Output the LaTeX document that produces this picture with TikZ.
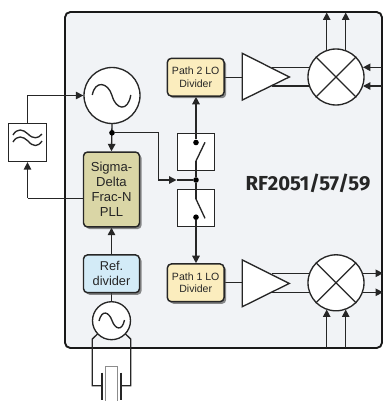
\documentclass[tikz,border=0pt]{standalone}
\usepackage{fontspec}
\setmainfont{Liberation Sans}
\newfontfamily\titlefont{Fira Sans}
\usetikzlibrary{arrows.meta,shadows,backgrounds}
\pgfdeclarelayer{boxlayer}
\pgfdeclarelayer{wirelayer}
\pgfsetlayers{boxlayer,wirelayer,main}
\definecolor{panelc}{HTML}{F1F3F6}
\definecolor{pllc}{HTML}{DAD6A6}
\definecolor{refc}{HTML}{D3EBF7}
\definecolor{loc}{HTML}{FBEDBE}
\definecolor{inkc}{HTML}{262626}
\tikzset{
  x=0.75pt,y=-0.75pt,
  wire/.style={draw=inkc,line width=1pt},
  arrowwire/.style={wire,-{Triangle[length=5.6pt,width=5.6pt]}},
  block/.style={draw=inkc,line width=1.1pt,rounded corners=3pt,inner sep=0pt,align=center,
    text=inkc,drop shadow={shadow xshift=1.6pt,shadow yshift=-1.6pt,fill=black!70,opacity=.65}},
  plainbox/.style={draw=inkc,line width=0.95pt,fill=white,inner sep=0pt,minimum size=28pt},
  roundel/.style={circle,draw=inkc,line width=1pt,fill=white,inner sep=0pt},
  amp/.style={draw=inkc,line width=1pt,fill=white,line join=miter},
  dot/.style={circle,fill=black,inner sep=0pt,minimum size=4.2pt},
  curve/.style={draw=inkc,line width=1pt}
}
\begin{document}
\begin{tikzpicture}
\useasboundingbox (0,0) rectangle (383,401);
\clip (0,0) rectangle (383,401);
% blocks
\node[block,fill=pllc,minimum width=42pt,minimum height=56.2pt,font=\fontsize{9.8pt}{11.3pt}\selectfont] (pll) at (111.5,189.5) {Sigma-\\Delta\\Frac-N\\PLL};
\node[block,fill=refc,minimum width=42pt,minimum height=28.3pt,font=\fontsize{9.6pt}{11.3pt}\selectfont] (ref) at (111.5,273.8) {Ref.\\divider};
\node[block,fill=loc,minimum width=42.5pt,minimum height=28.3pt,font=\fontsize{7.9pt}{9.6pt}\selectfont] (lotwo) at (195.7,77.2) {Path 2 LO\\Divider};
\node[block,fill=loc,minimum width=42.5pt,minimum height=28.3pt,font=\fontsize{7.9pt}{9.6pt}\selectfont] (loone) at (195.7,282.8) {Path 1 LO\\Divider};
\node[plainbox] (swtwo) at (196,152) {};
\node[plainbox] (swone) at (196,207.8) {};
\node[plainbox,minimum size=28.5pt] (filt) at (27.5,142.5) {};
\node[roundel,minimum size=42pt] (vco) at (112,95.5) {};
\node[roundel,minimum size=28.5pt] (xo) at (111.5,320.7) {};
\node[roundel,minimum size=42pt] (mixtwo) at (336,77) {};
\node[roundel,minimum size=42pt] (mixone) at (336,282.8) {};
\draw[amp] (242.3,53.3) coordinate (amptwo) -- (289.3,77) -- (242.3,100) -- cycle;
\draw[amp] (242.3,260) coordinate (ampone) -- (289.3,283.4) -- (242.3,306.7) -- cycle;
\node[font=\titlefont\fontsize{15.2pt}{17pt}\selectfont\bfseries,text=inkc,inner sep=0pt] (title) at (308,183.5) {RF2051/57/59};
% junctions
\node[dot] (jpll) at (112,132.8) {};
\node[dot] (jmid) at (196,180) {};
\node[dot] (jtwo) at (196,142.5) {};
\node[dot] (jone) at (196,217.2) {};
% symbols
\draw[curve] (92.3,95) .. controls (95,80) and (108,82) .. (112,95.5) .. controls (116,110) and (128,112) .. (130.8,95);
\draw[curve] (99,321) .. controls (102,309) and (109,312) .. (112,320.5) .. controls (115,329) and (122,332) .. (124.5,320);
\draw[curve] (13,135) .. controls (17,128) and (23,129) .. (28,134) .. controls (33,139) and (38,139) .. (42,134);
\draw[curve] (13,142) .. controls (17,135) and (23,136) .. (28,141) .. controls (33,147) and (38,147) .. (42,141);
\draw[curve] (mixtwo.45) -- (mixtwo.225) (mixtwo.135) -- (mixtwo.315);
\draw[curve] (mixone.45) -- (mixone.225) (mixone.135) -- (mixone.315);
\coordinate (bladetwoa) at (196,161);
\coordinate (bladetwob) at (205,142.3);
\coordinate (bladeonea) at (196,199);
\coordinate (bladeoneb) at (205,218.3);
\draw[curve] (bladetwoa) -- (bladetwob);
\draw[curve] (bladeonea) -- (bladeoneb);
\draw[wire] (jtwo) -- (jtwo |- swtwo.north);
\draw[wire] (jone) -- (jone |- swone.south);
\draw[wire] (jmid) -- (bladetwoa);
\draw[wire] (jmid) -- (bladeonea);
% panel
\begin{pgfonlayer}{boxlayer}
\draw[fill=panelc,draw=black!90,line width=1.4pt,rounded corners=4pt] (65,12) rectangle (382,348);
\end{pgfonlayer}
% connectors
\coordinate (twotapa) at (272,67.3);
\coordinate (twotapb) at (272,86);
\coordinate (onetapa) at (272,273.3);
\coordinate (onetapb) at (272,292.3);
\coordinate (mixtwoina) at (363,67.3);
\coordinate (mixtwoinb) at (363,86);
\coordinate (edgea) at (382,67.3);
\coordinate (edgeb) at (382,86);
\coordinate (outa) at (383,273.3);
\coordinate (outb) at (383,292.3);
\coordinate (upa) at (326.7,12.5);
\coordinate (upb) at (345.7,12.5);
\coordinate (loa) at (326.7,348);
\coordinate (lob) at (345.7,348);
\coordinate (loaend) at (326.7,309.5);
\coordinate (lobend) at (345.7,309.5);
\coordinate (xtall) at (92.3,339);
\coordinate (xtalr) at (130.7,339);
\coordinate (xtalbl) at (92.3,385.7);
\coordinate (xtalbr) at (130.7,385.7);
\coordinate (platel) at (101.7,385.7);
\coordinate (plater) at (121,385.7);
\coordinate (bendtop) at (158.3,132.8);
\coordinate (bendlow) at (158.3,180);
\coordinate (bendtip) at (176.5,180);
\coordinate (pllout) at (27.5,198.3);
\begin{pgfonlayer}{wirelayer}
\draw[arrowwire] (filt.north) |- (vco.west);
\draw[wire] (pll.west |- pllout) -- (pllout);
\draw[arrowwire] (pllout) -- (filt.south);
\draw[arrowwire] (vco.south) -- (pll.north);
\draw[arrowwire] (jpll) -- (bendtop) -- (bendlow) -- (bendtip);
\draw[wire] (bendtip) -- (jmid);
\draw[arrowwire] (ref.north) -- (pll.south);
\draw[wire] (ref.south) -- (xo.north);
\draw[arrowwire] (jtwo) -- (lotwo.south -| jtwo);
\draw[arrowwire] (jone) -- (loone.north -| jone);
\draw[wire] (lotwo.east) -- (amptwo |- lotwo.east);
\draw[wire] (loone.east) -- (ampone |- loone.east);
\draw[wire] (twotapa) -- (mixtwo.center |- twotapa);
\draw[wire] (twotapb) -- (mixtwo.center |- twotapb);
\draw[wire] (onetapa) -- (mixone.center |- onetapa);
\draw[wire] (onetapb) -- (mixone.center |- onetapb);
\draw[arrowwire] (edgea) -- (mixtwoina);
\draw[arrowwire] (edgeb) -- (mixtwoinb);
\draw[arrowwire] (mixone.center |- outa) -- (outa);
\draw[arrowwire] (mixone.center |- outb) -- (outb);
\draw[arrowwire] (mixtwo.center -| upa) -- (upa);
\draw[arrowwire] (mixtwo.center -| upb) -- (upb);
\draw[arrowwire] (loa) -- (loaend);
\draw[arrowwire] (lob) -- (lobend);
\draw[wire] (xo.center) -- (xtall) -- (xtalbl) -- (platel);
\draw[wire] (xo.center) -- (xtalr) -- (xtalbr) -- (plater);
\end{pgfonlayer}
% crystal
\draw[draw=black!45,line width=0.8pt] (105.7,401) -- (105.7,366.7) -- (117.7,366.7) -- (117.7,401);
\draw[draw=inkc,line width=1.6pt] (101.7,372.7) -- (101.7,400);
\draw[draw=inkc,line width=1.6pt] (121,372.7) -- (121,400);
\end{tikzpicture}
\end{document}
